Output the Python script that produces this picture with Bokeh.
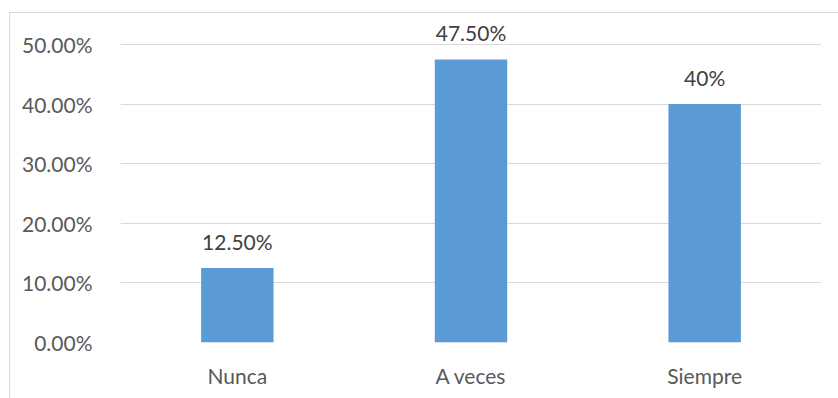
from bokeh.plotting import figure
from bokeh.models import ColumnDataSource, Range1d, FixedTicker, NumeralTickFormatter, LabelSet
from bokeh.core.properties import value
from bokeh.embed import file_html
from bokeh.resources import INLINE

categories = ["Nunca", "A veces", "Siempre"]
values = [0.125, 0.475, 0.40]
labels = ["12.50%", "47.50%", "40%"]
y_ticks = [0.0, 0.1, 0.2, 0.3, 0.4, 0.5]

FONT = "Lato"
GRAY = "#595959"

src = ColumnDataSource(dict(cat=categories, val=values, lab=labels))

p = figure(x_range=categories, y_range=Range1d(0, 0.552),
           width=829, height=386, output_backend="svg", toolbar_location=None,
           min_border_left=110, min_border_right=18, min_border_top=0, min_border_bottom=57)
p.margin = (12, 0, 0, 9)
p.styles = {"border-left": "1px solid #d9d9d9", "border-top": "1px solid #d9d9d9"}
p.outline_line_color = None
p.background_fill_color = "white"
p.border_fill_color = "white"

p.vbar(x="cat", top="val", width=0.31, source=src, color="#5b9bd5", line_color=None)
p.add_layout(LabelSet(x="cat", y="val", text="lab", source=src, text_align="center",
                      text_baseline="bottom", y_offset=14, text_font=value(FONT),
                      text_font_size="21px", text_color="#404040"))

p.yaxis.ticker = FixedTicker(ticks=y_ticks)
p.yaxis.formatter = NumeralTickFormatter(format="0.00%")
for ax in (p.xaxis, p.yaxis):
    ax.axis_line_color = None
    ax.major_tick_line_color = None
    ax.minor_tick_line_color = None
    ax.major_label_text_font = FONT
    ax.major_label_text_font_size = "21px"
    ax.major_label_text_color = GRAY
p.yaxis.major_label_standoff = 22
p.xaxis.major_label_standoff = 14

p.xgrid.grid_line_color = None
p.ygrid.grid_line_color = "#d9d9d9"
p.ygrid.grid_line_width = 1

open("out.html", "w").write(file_html(p, INLINE))
